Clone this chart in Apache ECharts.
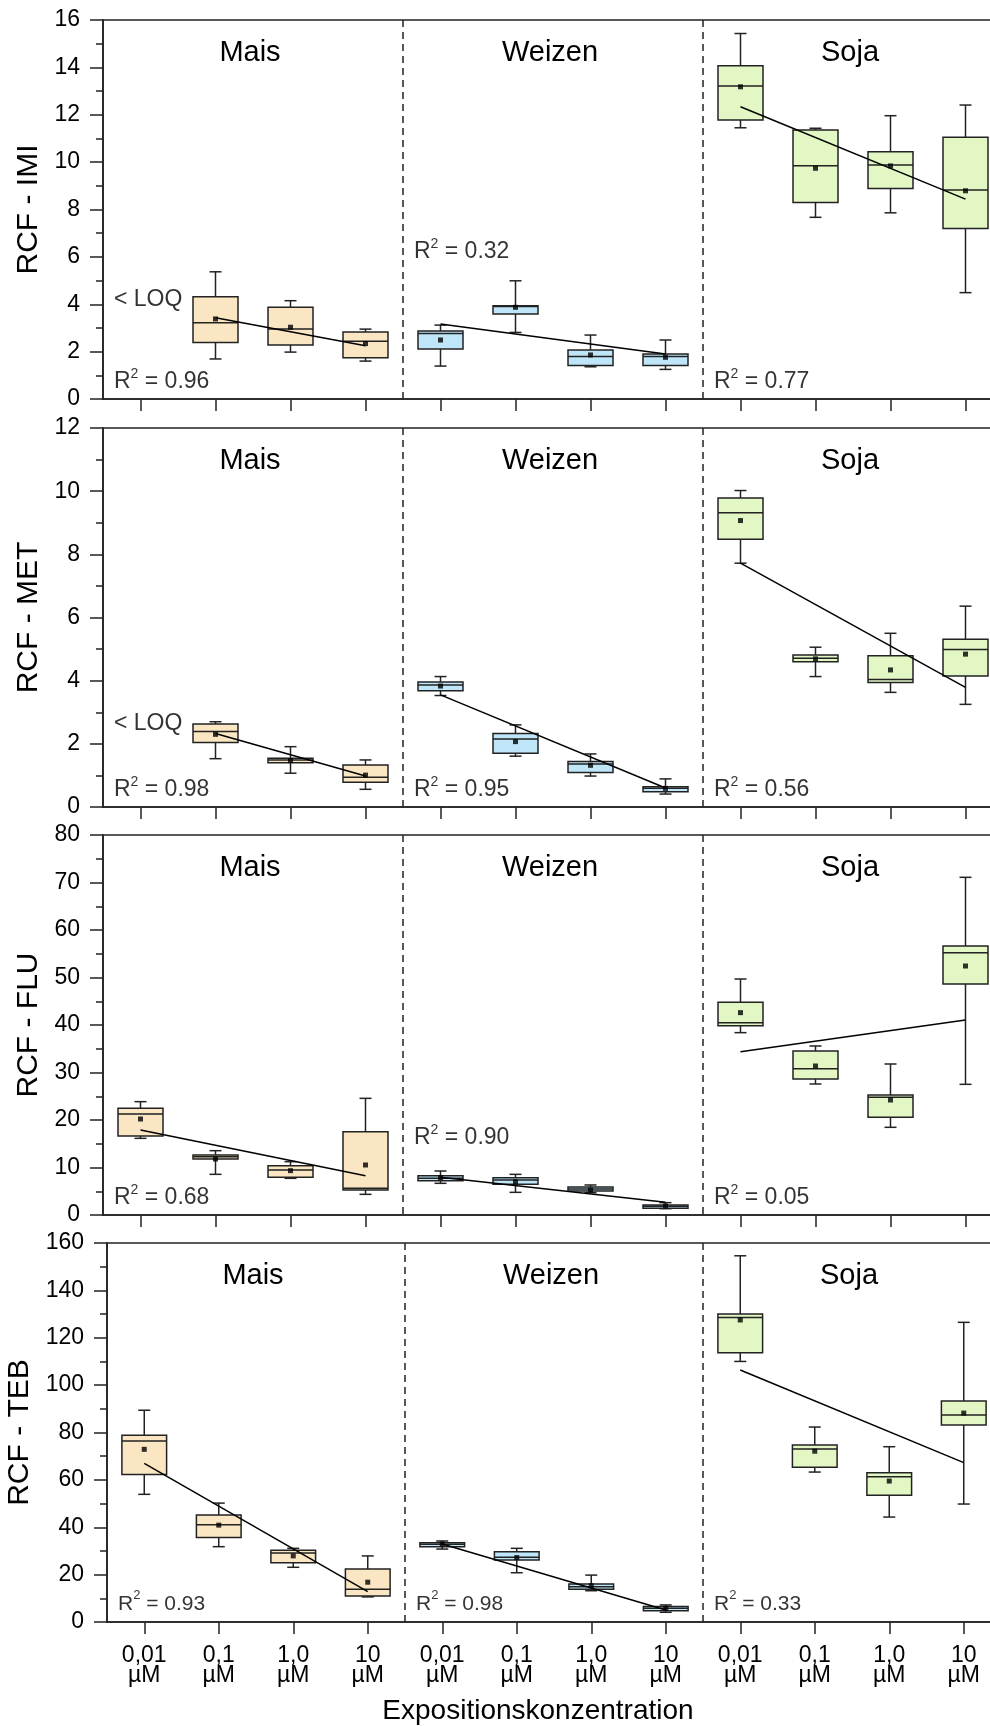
<!DOCTYPE html>
<html>
<head>
<meta charset="utf-8">
<script src="https://cdn.jsdelivr.net/npm/echarts@6/dist/echarts.min.js"></script>
<style>
  html, body { margin: 0; padding: 0; background: #fff; }
  #main { width: 990px; height: 1726px; }
</style>
</head>
<body>
<div id="main"></div>
<script>
// categories: 4 concentrations per crop
const crops = ['Mais', 'Weizen', 'Soja'];
const concLabels = ['0,01\nµM', '0,1\nµM', '1,0\nµM', '10\nµM'];
const categories = [].concat(concLabels, concLabels, concLabels);
const yNames = ['RCF - IMI', 'RCF - MET', 'RCF - FLU', 'RCF - TEB'];
const yMax = [16, 12, 80, 160];
const yStep = [2, 2, 10, 20];

// per category: [min, q1, median, q3, max, mean]; null = < LOQ
const imiStats = [
  null,
  [1.69, 2.38, 3.22, 4.32, 5.37, 3.38],
  [1.98, 2.28, 2.95, 3.87, 4.15, 3.03],
  [1.60, 1.74, 2.44, 2.83, 2.95, 2.34],
  [1.39, 2.11, 2.77, 2.87, 3.12, 2.49],
  [2.81, 3.59, 3.90, 3.94, 4.99, 3.87],
  [1.36, 1.41, 1.79, 2.07, 2.70, 1.86],
  [1.25, 1.41, 1.79, 1.90, 2.49, 1.76],
  [11.45, 11.78, 13.21, 14.07, 15.43, 13.18],
  [7.67, 8.30, 9.85, 11.36, 11.43, 9.74],
  [7.86, 8.89, 9.88, 10.44, 11.96, 9.84],
  [4.49, 7.20, 8.82, 11.05, 12.41, 8.79]
];
const metStats = [
  null,
  [1.53, 2.04, 2.39, 2.63, 2.70, 2.30],
  [1.07, 1.40, 1.49, 1.54, 1.91, 1.47],
  [0.56, 0.78, 0.94, 1.33, 1.49, 1.01],
  [3.53, 3.68, 3.86, 3.96, 4.13, 3.83],
  [1.61, 1.70, 2.15, 2.33, 2.60, 2.07],
  [0.98, 1.09, 1.36, 1.44, 1.68, 1.32],
  [0.41, 0.48, 0.59, 0.64, 0.89, 0.59],
  [7.72, 8.48, 9.32, 9.78, 10.02, 9.07],
  [4.13, 4.60, 4.71, 4.81, 5.06, 4.69],
  [3.63, 3.94, 4.04, 4.79, 5.50, 4.34],
  [3.25, 4.15, 4.99, 5.31, 6.36, 4.84]
];
const fluStats = [
  [16.14, 16.63, 21.26, 22.46, 23.86, 20.21],
  [8.56, 11.79, 12.28, 12.63, 13.54, 11.79],
  [7.72, 7.93, 9.47, 10.39, 11.23, 9.33],
  [4.35, 5.26, 5.61, 17.54, 24.56, 10.53],
  [6.67, 7.23, 7.72, 8.28, 9.26, 7.86],
  [4.77, 6.46, 7.37, 7.86, 8.56, 7.02],
  [4.70, 5.05, 5.47, 5.89, 6.32, 5.26],
  [1.33, 1.40, 1.82, 2.11, 2.60, 1.89],
  [38.39, 39.86, 40.49, 44.77, 49.68, 42.60],
  [27.58, 28.63, 30.81, 34.53, 35.58, 31.37],
  [18.46, 20.56, 24.77, 25.26, 31.79, 24.21],
  [27.51, 48.63, 55.23, 56.63, 71.09, 52.42]
];
const tebStats = [
  [53.9, 62.3, 76.4, 78.8, 89.4, 72.9],
  [31.8, 35.7, 41.1, 45.2, 50.2, 40.9],
  [23.1, 25.0, 29.1, 30.3, 31.1, 27.9],
  [10.6, 11.0, 13.8, 22.4, 27.9, 16.8],
  [30.8, 31.8, 32.8, 33.5, 34.2, 32.9],
  [20.8, 26.2, 27.3, 29.7, 31.1, 27.2],
  [13.2, 13.8, 14.9, 16.0, 19.8, 15.3],
  [4.1, 4.8, 5.8, 6.5, 7.2, 5.8],
  [110.0, 113.7, 128.5, 130.0, 154.6, 127.5],
  [63.3, 65.3, 73.0, 74.7, 82.3, 72.1],
  [44.3, 53.5, 61.3, 63.0, 74.0, 59.5],
  [49.8, 83.2, 87.4, 93.3, 126.5, 88.2]
];

// regression lines: [[startCategory, value], [endCategory, value]] per crop
const imiTrend = [[[1, 3.43], [3, 2.25]], [[4, 3.17], [7, 1.90]], [[8, 12.34], [11, 8.44]]];
const metTrend = [[[1, 2.33], [3, 0.98]], [[4, 3.55], [7, 0.60]], [[8, 7.72], [11, 3.79]]];
const fluTrend = [[[0, 17.89], [3, 8.28]], [[4, 7.93], [7, 2.67]], [[8, 34.39], [11, 41.05]]];
const tebTrend = [[[0, 67.0], [3, 12.8]], [[4, 32.9], [7, 5.1]], [[8, 106.4], [11, 67.3]]];

// R² per crop and the y level its text sits at
const imiR2 = ['0.96', '0.32', '0.77'];
const metR2 = ['0.98', '0.95', '0.56'];
const fluR2 = ['0.68', '0.90', '0.05'];
const tebR2 = ['0.93', '0.98', '0.33'];
const imiR2Level = [0.78, 6.3, 0.78];
const metR2Level = [0.6, 0.6, 0.6];
const fluR2Level = [4.0, 16.5, 4.0];
const tebR2Level = [8.4, 8.4, 8.4];
const loqLevel = [4.26, 2.69, null, null];

const allStats = [imiStats, metStats, fluStats, tebStats];
const allTrend = [imiTrend, metTrend, fluTrend, tebTrend];
const allR2 = [imiR2, metR2, fluR2, tebR2];
const allR2Level = [imiR2Level, metR2Level, fluR2Level, tebR2Level];

// layout
const FONT = '"Liberation Sans", Arial, sans-serif';
const INK = '#222';
const TXT = '#000';
const cropColors = ['#fae6c3', '#bfe6f8', '#e2f7c4'];
const panelTops = [20, 428, 835, 1243];
const panelHeights = [379, 379, 380, 379];
const panelLefts = [103, 103, 103, 107];
const bandWidths = [75, 75, 75, 74.5];

function renderBox(params, api) {
  const cat = api.value(0);
  const y = (k) => api.coord([cat, api.value(k)])[1];
  const x = api.coord([cat, 0])[0];
  const hw = api.size([1, 0])[0] * 0.3;
  const cw = 6;
  const ls = { stroke: INK, lineWidth: 1.5 };
  const yMin = y(1), yQ1 = y(2), yMed = y(3), yQ3 = y(4), yMx = y(5);
  return {
    type: 'group',
    children: [
      { type: 'line', shape: { x1: x, y1: yMx, x2: x, y2: yQ3 }, style: ls },
      { type: 'line', shape: { x1: x, y1: yQ1, x2: x, y2: yMin }, style: ls },
      { type: 'line', shape: { x1: x - cw, y1: yMx, x2: x + cw, y2: yMx }, style: ls },
      { type: 'line', shape: { x1: x - cw, y1: yMin, x2: x + cw, y2: yMin }, style: ls },
      { type: 'rect', shape: { x: x - hw, y: yQ3, width: 2 * hw, height: yQ1 - yQ3 },
        style: { fill: cropColors[Math.floor(cat / 4)], stroke: INK, lineWidth: 1.5 } },
      { type: 'line', shape: { x1: x - hw, y1: yMed, x2: x + hw, y2: yMed }, style: ls }
    ]
  };
}

const grids = [], xAxes = [], yAxes = [], series = [], graphics = [];

panelTops.forEach((top, i) => {
  const band = bandWidths[i];
  grids.push({
    left: panelLefts[i], top: top, width: band * 12, height: panelHeights[i],
    show: true, borderColor: INK, borderWidth: 1.6, backgroundColor: 'transparent',
    outerBoundsMode: 'none'
  });
  xAxes.push({
    type: 'category', gridIndex: i, data: categories, boundaryGap: true,
    axisLine: { show: true, lineStyle: { color: INK, width: 1.6 } },
    axisTick: { show: true, interval: 0, alignWithLabel: true, length: 12, lineStyle: { color: INK, width: 1.5 } },
    axisLabel: { show: i === 3, interval: 0, fontSize: 23, lineHeight: 20, margin: 24, color: TXT, fontFamily: FONT },
    splitLine: {
      show: true,
      interval: (idx) => idx === 4 || idx === 8,
      lineStyle: { type: [7, 5], color: INK, width: 1.5 }
    }
  });
  yAxes.push({
    type: 'value', gridIndex: i, min: 0, max: yMax[i], interval: yStep[i],
    name: yNames[i], nameLocation: 'middle', nameGap: 57,
    nameTextStyle: { fontSize: 30, color: TXT, fontFamily: FONT },
    axisLine: { show: true, lineStyle: { color: INK, width: 1.6 } },
    axisTick: { show: true, length: 13, lineStyle: { color: INK, width: 1.5 } },
    minorTick: { show: true, splitNumber: 2, length: 7, lineStyle: { color: INK, width: 1.5 } },
    axisLabel: { fontSize: 23, margin: 23, color: TXT, fontFamily: FONT },
    splitLine: { show: false }
  });

  const stats = allStats[i];
  const boxData = [];
  const meanData = [];
  stats.forEach((s, c) => {
    if (!s) return;
    boxData.push([c, s[0], s[1], s[2], s[3], s[4]]);
    meanData.push([c, s[5]]);
  });
  series.push({
    type: 'custom', xAxisIndex: i, yAxisIndex: i, renderItem: renderBox,
    encode: { x: 0, y: [1, 2, 3, 4, 5] }, data: boxData, clip: false, z: 2, silent: true
  });
  allTrend[i].forEach((seg) => {
    series.push({
      type: 'line', xAxisIndex: i, yAxisIndex: i, data: seg, symbol: 'none',
      lineStyle: { color: '#000', width: 1.5 }, z: 3, silent: true
    });
  });
  series.push({
    type: 'scatter', xAxisIndex: i, yAxisIndex: i, data: meanData, symbol: 'rect',
    symbolSize: 5, itemStyle: { color: '#000' }, z: 4, silent: true
  });

  // R² and < LOQ annotations
  const fs = i === 3 ? 21 : 23;
  const noteData = allR2[i].map((r, g) => [g * 4, allR2Level[i][g], 'r2', r]);
  if (loqLevel[i] != null) noteData.push([0, loqLevel[i], 'loq', '< LOQ']);
  series.push({
    type: 'scatter', xAxisIndex: i, yAxisIndex: i, data: noteData, symbolSize: 0,
    z: 5, silent: true,
    label: {
      show: true, position: [-(band / 2) + 11, 0], align: 'left', verticalAlign: 'middle',
      fontFamily: FONT, color: TXT, fontSize: 23,
      formatter: (p) => p.data[2] === 'loq' ? '{a|< LOQ}' : '{a|R}{s|2}{a| = ' + p.data[3] + '}',
      rich: {
        a: { fontSize: fs, fontFamily: FONT, color: TXT, lineHeight: 26, verticalAlign: 'bottom' },
        s: { fontSize: Math.round(fs * 0.62), fontFamily: FONT, color: TXT, lineHeight: 16, verticalAlign: 'top' }
      }
    }
  });

  crops.forEach((name, g) => {
    graphics.push({
      type: 'text', x: panelLefts[i] + band * (4 * g + 2) - 3, y: top + 33, silent: true,
      style: { text: name, fill: TXT, font: '29px ' + FONT, align: 'center', verticalAlign: 'middle',
        textAlign: 'center', textVerticalAlign: 'middle' }
    });
  });
});

graphics.push({
  type: 'text', x: 538, y: 1711, silent: true,
  style: { text: 'Expositionskonzentration', fill: TXT, font: '28px ' + FONT, align: 'center',
    verticalAlign: 'middle', textAlign: 'center', textVerticalAlign: 'middle' }
});

const chart = echarts.init(document.getElementById('main'));
chart.setOption({
  animation: false,
  backgroundColor: '#fff',
  textStyle: { fontFamily: FONT },
  grid: grids,
  xAxis: xAxes,
  yAxis: yAxes,
  series: series,
  graphic: graphics
});
</script>
</body>
</html>
